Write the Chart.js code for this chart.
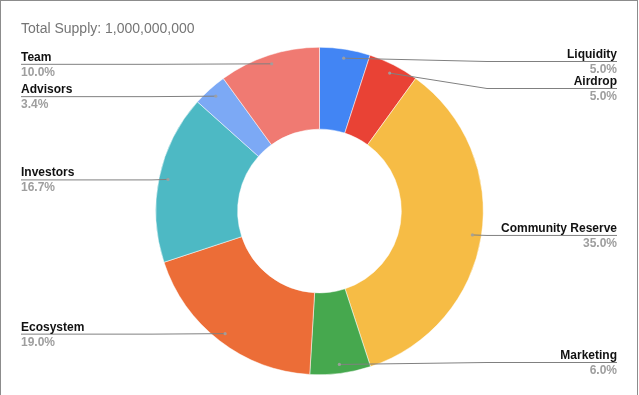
<!DOCTYPE html>
<html>
<head>
<meta charset="utf-8">
<script src="https://cdn.jsdelivr.net/npm/chart.js@4/dist/chart.umd.min.js"></script>
<style>
  html, body { margin: 0; padding: 0; background: #fff; }
  #wrap { position: absolute; left: 0; top: 0; width: 636px; height: 395px;
          border-left: 1px solid #8c8c8c; border-top: 1px solid #8c8c8c; border-right: 1px solid #8c8c8c; }
  canvas { position: absolute; left: -1px; top: -1px; }
</style>
</head>
<body>
<div id="wrap"><canvas id="c" width="639" height="395"></canvas></div>
<script>
const titleText = 'Total Supply: 1,000,000,000';
const categories = ['Liquidity', 'Airdrop', 'Community Reserve', 'Marketing', 'Ecosystem', 'Investors', 'Advisors', 'Team'];
const shares = [5.0, 5.0, 35.0, 6.0, 19.0, 16.7, 3.4, 10.0];
const colors = ['#4285F4', '#E94235', '#F6BC45', '#46A84E', '#EC6D37', '#4DB9C4', '#7CA9F5', '#F07A72'];

const FONT = 'Arial, "Liberation Sans", sans-serif';

const labelPlugin = {
  id: 'sheetLabels',
  afterDraw(chart) {
    const ctx = chart.ctx;
    const meta = chart.getDatasetMeta(0);
    const W = chart.width;
    const items = [];
    meta.data.forEach((arc, i) => {
      const p = arc.getProps(['x', 'y', 'startAngle', 'endAngle', 'outerRadius', 'innerRadius'], true);
      const mid = (p.startAngle + p.endAngle) / 2;
      const r = p.outerRadius * 0.945;
      const dx = p.x + Math.cos(mid) * r;
      const dy = p.y + Math.sin(mid) * r;
      const right = Math.cos(mid) >= 0;
      items.push({ i, dx, dy, right, ly: dy });
    });
    const minY = 61, maxY = 362, gap = 27;
    [true, false].forEach(side => {
      const s = items.filter(it => it.right === side).sort((a, b) => a.dy - b.dy);
      for (let k = 0; k < s.length; k++) {
        let y = Math.max(s[k].dy, minY);
        if (k > 0) y = Math.max(y, s[k - 1].ly + gap);
        s[k].ly = y;
      }
      for (let k = s.length - 1; k >= 0; k--) {
        let y = Math.min(s[k].ly, maxY);
        if (k < s.length - 1) y = Math.min(y, s[k + 1].ly - gap);
        s[k].ly = y;
      }
    });

    ctx.save();
    ctx.font = '14px ' + FONT;
    ctx.fillStyle = '#757575';
    ctx.textAlign = 'left';
    ctx.textBaseline = 'alphabetic';
    ctx.fillText(titleText, 21, 33);

    const leftX = 21, rightX = W - 22, bendX = 487;
    items.forEach(it => {
      ctx.strokeStyle = '#808080';
      ctx.lineWidth = 1;
      ctx.beginPath();
      if (it.right) {
        const bx = Math.max(it.dx, bendX);
        ctx.moveTo(it.dx, it.dy);
        ctx.lineTo(bx, it.ly + 0.5);
        ctx.lineTo(rightX, it.ly + 0.5);
      } else {
        const bx = Math.min(it.dx, 152);
        ctx.moveTo(it.dx, it.dy);
        ctx.lineTo(bx, it.ly + 0.5);
        ctx.lineTo(leftX, it.ly + 0.5);
      }
      ctx.stroke();
      ctx.fillStyle = 'rgba(160,160,160,0.9)';
      ctx.beginPath();
      ctx.arc(it.dx, it.dy, 1.6, 0, Math.PI * 2);
      ctx.fill();
      ctx.textAlign = it.right ? 'right' : 'left';
      const tx = it.right ? rightX : leftX;
      ctx.font = 'bold 12px ' + FONT;
      ctx.fillStyle = '#111';
      ctx.fillText(categories[it.i], tx, it.ly - 3);
      ctx.fillStyle = '#9e9e9e';
      ctx.fillText(shares[it.i].toFixed(1) + '%', tx, it.ly + 12);
    });
    ctx.restore();
  }
};

new Chart(document.getElementById('c'), {
  type: 'doughnut',
  data: {
    labels: categories,
    datasets: [{
      data: shares,
      backgroundColor: colors,
      borderColor: '#ffffff',
      borderWidth: 0.5
    }]
  },
  options: {
    responsive: false,
    animation: false,
    cutout: '50%',
    layout: { padding: { top: 47, bottom: 20, left: 0, right: 0 } },
    plugins: { legend: { display: false }, tooltip: { enabled: false }, title: { display: false } }
  },
  plugins: [labelPlugin]
});
</script>
</body>
</html>
